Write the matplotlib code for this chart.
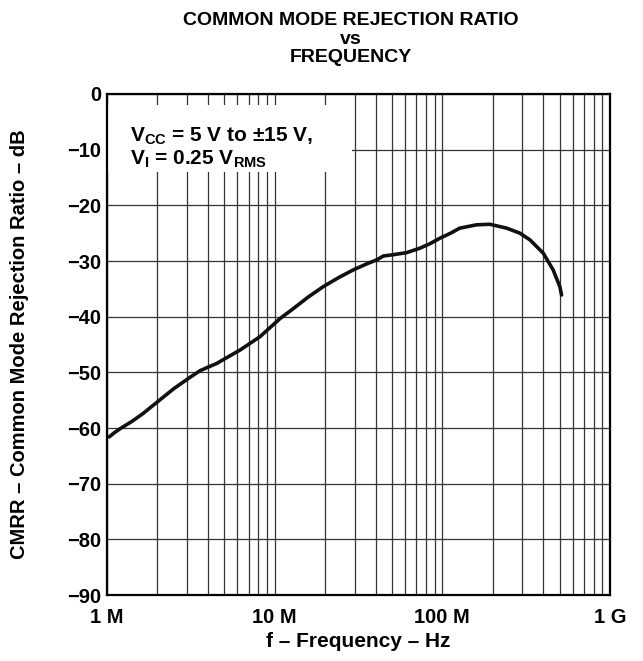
import numpy as np
import matplotlib
matplotlib.use("Agg")
import matplotlib.pyplot as plt
from matplotlib.patches import Rectangle
from matplotlib.ticker import FixedLocator, NullFormatter

plt.rcParams["font.family"] = ["Liberation Sans", "DejaVu Sans"]
plt.rcParams["font.weight"] = "bold"
plt.rcParams["mathtext.fontset"] = "custom"
plt.rcParams["mathtext.rm"] = "Liberation Sans:bold"
plt.rcParams["mathtext.bf"] = "Liberation Sans:bold"
plt.rcParams["mathtext.it"] = "Liberation Sans:bold"

# curve (frequency in MHz, CMRR in dB)
freq_mhz = [1.03, 1.10, 1.20, 1.41, 1.64, 1.98, 2.51, 3.16, 3.59, 3.98, 4.51,
            6.21, 8.17, 10.8, 12.6, 15.8, 19.5, 24.0, 29.4, 35.5, 40.6, 44.5,
            50.1, 61.2, 73.5, 84.3, 96.8, 112, 127, 160, 192, 242, 290, 333,
            400, 458, 502, 514]
cmrr_db = [-61.6, -60.9, -60.1, -58.8, -57.4, -55.4, -52.9, -50.8, -49.7, -49.1,
           -48.4, -46.0, -43.6, -40.3, -38.8, -36.5, -34.6, -33.0, -31.6, -30.5,
           -29.8, -29.1, -28.9, -28.5, -27.7, -26.9, -25.9, -25.0, -24.1, -23.5,
           -23.4, -24.1, -25.0, -26.2, -28.6, -31.6, -34.6, -36.1]

x_ticks = [1e6, 1e7, 1e8, 1e9]
x_ticklabels = ["1 M", "10 M", "100 M", "1 G"]
y_ticks = list(range(-90, 1, 10))

fig = plt.figure(figsize=(6.43, 6.61), dpi=100)
ax = fig.add_axes([0.1664, 0.0998, 0.7823, 0.758])

f_hz = np.array(freq_mhz) * 1e6
ax.plot(f_hz, cmrr_db, color="#111111", lw=2.6, zorder=4, solid_capstyle="round")

ax.set_xscale("log")
ax.set_xlim(1e6, 1e9)
ax.set_ylim(-90, 0)

ax.xaxis.set_major_locator(FixedLocator(x_ticks))
ax.set_xticklabels(x_ticklabels)
minor = [m * 10 ** e for e in range(6, 9) for m in range(2, 10)]
ax.xaxis.set_minor_locator(FixedLocator(minor))
ax.xaxis.set_minor_formatter(NullFormatter())
ax.set_yticks(y_ticks)
ax.set_yticklabels([str(v).replace("-", "\u2212") for v in y_ticks])

ax.grid(True, which="both", axis="x", color="#333333", lw=0.9)
ax.grid(True, which="major", axis="y", color="#333333", lw=0.9)
ax.set_axisbelow(True)
ax.tick_params(which="both", length=0, labelsize=14.5)
ax.tick_params(axis="x", pad=9)
ax.tick_params(axis="y", pad=4)
for lab in ax.get_xticklabels() + ax.get_yticklabels():
    lab.set_fontweight("bold")
for s in ax.spines.values():
    s.set_linewidth(1.6)
    s.set_zorder(5)

# white box behind the conditions text
ax.add_patch(Rectangle((0.0, 0.844), 0.487, 0.134, transform=ax.transAxes,
                       facecolor="white", edgecolor="none", zorder=2))
ax.text(0.045, 0.915, "V$_{\\mathregular{CC}}$ = 5 V to \u00b115 V,",
        transform=ax.transAxes, fontsize=15, fontweight="bold", zorder=3,
        va="center")
ax.text(0.045, 0.87, "V$_{\\mathregular{I}}$ = 0.25 V$_{\\mathregular{RMS}}$",
        transform=ax.transAxes, fontsize=15, fontweight="bold", zorder=3,
        va="center")

ax.set_xlabel("f \u2013 Frequency \u2013 Hz", fontsize=15, fontweight="bold", labelpad=4)
ax.set_ylabel("CMRR \u2013 Common Mode Rejection Ratio \u2013 dB", fontsize=14.5,
              fontweight="bold")
ax.yaxis.set_label_coords(-0.155, 0.5)

fig.text(0.545, 0.969, "COMMON MODE REJECTION RATIO", ha="center", va="center",
         fontsize=14, fontweight="bold")
fig.text(0.545, 0.940, "vs", ha="center", va="center", fontsize=14, fontweight="bold")
fig.text(0.545, 0.913, "FREQUENCY", ha="center", va="center", fontsize=14,
         fontweight="bold")

fig.savefig("out.png", dpi=100)
